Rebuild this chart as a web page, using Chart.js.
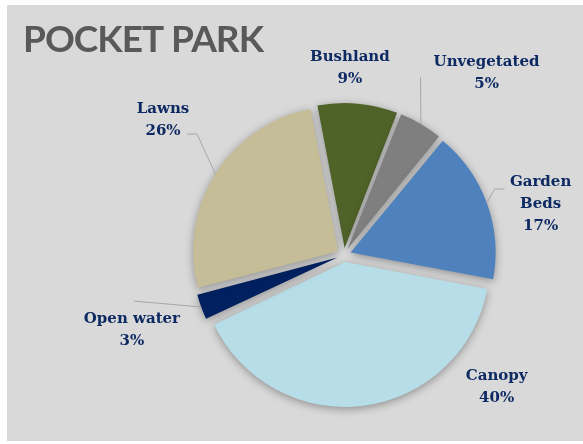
<!DOCTYPE html>
<html>
<head>
<meta charset="utf-8">
<script src="https://cdn.jsdelivr.net/npm/chart.js"></script>
<style>
  html, body { margin: 0; padding: 0; background: #fff; }
  #wrap { position: relative; width: 583px; height: 444px; overflow: hidden; }
  #panel { position: absolute; left: 7px; top: 5px; right: 0; bottom: 3px; background: #d9d9d9; }
  #chart { position: absolute; left: 0; top: 0; }
</style>
</head>
<body>
<div id="wrap">
  <div id="panel"></div>
  <canvas id="chart" width="583" height="444"></canvas>
</div>
<script>
// ── DATA ────────────────────────────────────────────────
const title = 'POCKET PARK';
const categories = ['Bushland', 'Unvegetated', ['Garden', 'Beds'], 'Canopy', 'Open water', 'Lawns'];
const shares = [9, 5, 17, 40, 3, 26];   // percent of site area
const sliceColors = ['#4f6228', '#7f7f7f', '#4f81bd', '#b7dee8', '#002060', '#c4bd97'];

// ── LOOK ────────────────────────────────────────────────
const EXPLODE = 7;        // px each slice is pulled out from the centre
const RADIUS = 145;
const LABEL_FONT = 'bold 15px "DejaVu Serif"';
const LABEL_COLOR = '#0e2a63';
const LINE_H = 22;

// label block centres: angle (deg, clockwise from 12 o'clock) and distance from the pie centre
const labelSpots = [
  { a: 1.8,   d: 187 },
  { a: 38.1,  d: 231 },
  { a: 75.6,  d: 203 },
  { a: 130.9, d: 202 },
  { a: 250.5, d: 225 },
  { a: 306.8, d: 226 }
];
// leader lines: start point relative to the label centre, plus a short horizontal elbow
const leaders = [
  null,
  { from: [-66, 4], elbow: 0 },
  { from: [-36, -15.5], elbow: 10 },
  null,
  { from: [2, -29], elbow: 0 },
  { from: [24, 14.5], elbow: 10 }
];

// ── PLUGINS ─────────────────────────────────────────────

// soft drop shadow under the slices; also keeps exploded slices at one radius
// (Chart.js grows small exploded arcs a bit, undo that here)
const sliceShadow = {
  id: 'sliceShadow',
  beforeDatasetDraw(chart, args) {
    const meta = args.meta;
    const base = meta.controller.outerRadius;
    meta.data.forEach(arc => {
      const fix = 1 - Math.sin(Math.min(Math.PI, arc.circumference));
      arc.outerRadius = base - EXPLODE * fix;
    });
    const ctx = chart.ctx;
    ctx.save();
    ctx.shadowColor = 'rgba(0,0,0,0.35)';
    ctx.shadowBlur = 9;
    ctx.shadowOffsetY = 2;
  },
  afterDatasetDraw(chart) {
    chart.ctx.restore();
  }
};

// title and outside labels with leader lines
const outsideLabels = {
  id: 'outsideLabels',
  afterDatasetsDraw(chart) {
    const ctx = chart.ctx;
    const meta = chart.getDatasetMeta(0);
    const values = chart.data.datasets[0].data;

    ctx.save();
    ctx.fillStyle = '#595959';
    ctx.font = 'bold 37px Lato';
    ctx.letterSpacing = '-1px';
    ctx.textAlign = 'left';
    ctx.textBaseline = 'alphabetic';
    ctx.fillText(title, 23, 52);
    ctx.letterSpacing = '0px';

    meta.data.forEach((arc, i) => {
      const spot = labelSpots[i];
      const rad = spot.a * Math.PI / 180;
      const lx = arc.x + spot.d * Math.sin(rad);
      const ly = arc.y - spot.d * Math.cos(rad);

      const lead = leaders[i];
      if (lead) {
        const mid = (arc.startAngle + arc.endAngle) / 2;
        const ex = arc.x + Math.cos(mid) * (EXPLODE + RADIUS);
        const ey = arc.y + Math.sin(mid) * (EXPLODE + RADIUS);
        const sx = lx + lead.from[0];
        const sy = ly + lead.from[1];
        ctx.beginPath();
        ctx.moveTo(sx, sy);
        ctx.lineTo(sx + Math.sign(lead.from[0]) * lead.elbow, sy);
        ctx.lineTo(ex, ey);
        ctx.strokeStyle = '#a6a6a6';
        ctx.lineWidth = 1;
        ctx.stroke();
      }

      const name = chart.data.labels[i];
      const lines = (Array.isArray(name) ? name : [name]).concat(values[i] + '%');
      ctx.fillStyle = LABEL_COLOR;
      ctx.font = LABEL_FONT;
      ctx.textAlign = 'center';
      ctx.textBaseline = 'middle';
      lines.forEach((t, k) => {
        ctx.fillText(t, lx, ly + (k - (lines.length - 1) / 2) * LINE_H);
      });
    });
    ctx.restore();
  }
};

// ── CHART ───────────────────────────────────────────────
new Chart(document.getElementById('chart').getContext('2d'), {
  type: 'pie',
  data: {
    labels: categories,
    datasets: [{
      data: shares,
      backgroundColor: sliceColors,
      borderWidth: 0,
      offset: EXPLODE * 4,     // arc element moves by offset / 4
      hoverOffset: 0
    }]
  },
  options: {
    responsive: false,
    animation: false,
    events: [],
    rotation: -11,
    radius: RADIUS,
    layout: { padding: { left: 105, right: 0, top: 66, bottom: 0 } },
    plugins: {
      legend: { display: false },
      tooltip: { enabled: false }
    }
  },
  plugins: [sliceShadow, outsideLabels]
});
</script>
</body>
</html>
